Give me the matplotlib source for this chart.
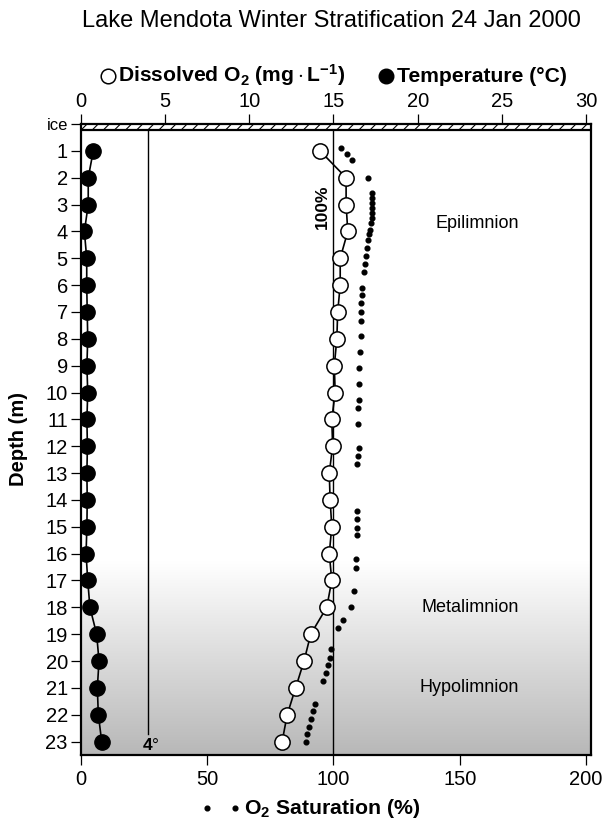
import numpy as np
import matplotlib
matplotlib.use("Agg")
import matplotlib.pyplot as plt
from matplotlib.patches import Rectangle
from matplotlib.lines import Line2D

plt.rcParams['font.family'] = ['Liberation Sans', 'DejaVu Sans']
plt.rcParams['mathtext.fontset'] = 'custom'
plt.rcParams['mathtext.rm'] = 'Liberation Sans'
plt.rcParams['mathtext.bf'] = 'Liberation Sans:bold'
plt.rcParams['mathtext.it'] = 'Liberation Sans:italic'
plt.rcParams['hatch.linewidth'] = 0.8

# Profile depths (m)
depth = np.arange(1, 24)

# Dissolved oxygen (mg/L)
dissolved_o2 = [14.2, 15.75, 15.75, 15.85, 15.4, 15.4, 15.25, 15.2, 15.05, 15.1,
                14.9, 14.95, 14.75, 14.8, 14.9, 14.75, 14.9, 14.6, 13.65, 13.25,
                12.75, 12.25, 11.95]

# Water temperature (deg C)
temperature = [0.73, 0.43, 0.43, 0.2, 0.34, 0.34, 0.37, 0.40, 0.35, 0.40,
               0.35, 0.38, 0.35, 0.37, 0.35, 0.30, 0.40, 0.53, 0.93, 1.07,
               0.97, 1.03, 1.23]

# Sonde oxygen saturation profile
sat_depth = [0.89, 1.11, 1.34, 2.01, 2.56, 2.75, 2.96, 3.14, 3.33, 3.51,
             3.70, 3.93, 4.11, 4.31, 4.61, 4.91, 5.21, 5.51, 6.10, 6.36,
             6.66, 7.00, 7.33, 7.89, 8.49, 9.08, 9.68, 10.27, 10.57, 11.17,
             12.06, 12.36, 12.66, 14.41, 14.70, 15.04, 15.30, 16.20, 16.53, 17.39,
             17.98, 18.47, 18.76, 19.55, 19.88, 20.15, 20.44, 20.74, 21.60, 21.86,
             22.16, 22.45, 22.71, 23.01]
sat_pct = [103.0, 105.3, 107.3, 113.7, 115.2, 115.2, 115.2, 115.2, 115.2, 115.2,
           114.9, 114.5, 114.1, 113.7, 113.3, 112.9, 112.5, 112.1, 111.3, 111.3,
           110.9, 110.9, 110.9, 110.9, 110.5, 110.1, 110.1, 110.1, 109.7, 109.7,
           110.1, 109.7, 109.3, 109.3, 109.3, 109.3, 109.3, 108.9, 108.9, 108.1,
           106.9, 103.8, 101.8, 99.0, 98.6, 97.8, 97.0, 95.8, 92.7, 91.9,
           91.1, 90.3, 89.5, 89.1]

depth_ticks = list(range(1, 24))
depth_tick_labels = ['ice'] + [str(d) for d in depth_ticks]
top_ticks = [0, 5, 10, 15, 20, 25, 30]
sat_ticks = [0, 50, 100, 150, 200]
layers = [('Epilimnion', 3.7), ('Metalimnion', 18.0), ('Hypolimnion', 21.0)]

ice_depth = 0.0
ice_thickness = 0.22
thermal_max_density = 4
full_saturation = 100
x_max = 30.3
sat_per_unit = 200 / 30
y_bottom = 23.5

W, H = 614, 827
fig = plt.figure(figsize=(W / 100, H / 100), dpi=100)
ax = fig.add_axes([81 / W, 1 - 755 / H, 510 / W, 631 / H])

# Grey shading through the metalimnion and hypolimnion
grad_top = 16.3
g = np.linspace(0, 1, 256)
shade = 1.0 - 0.28 * g
img = np.stack([shade, shade, shade], axis=-1)[:, None, :].repeat(2, axis=1)
ax.imshow(img, extent=[0, x_max, y_bottom, grad_top], aspect='auto',
          interpolation='bilinear', origin='upper', zorder=0)

# Ice cover
ax.add_patch(Rectangle((0, ice_depth), x_max, ice_thickness, facecolor='white',
                       edgecolor='black', hatch='///', linewidth=1.6, zorder=4))

# Reference lines: 4 degree isotherm and 100% saturation
ax.plot([thermal_max_density, thermal_max_density], [ice_thickness, 22.7],
        color='black', lw=1.0, zorder=2)
ax.text(thermal_max_density + 0.15, 23.12, r'$\mathbf{4}$°', ha='center',
        va='center', fontsize=12.5, zorder=5)
sat_x = full_saturation / sat_per_unit
ax.plot([sat_x, sat_x], [ice_thickness, y_bottom], color='black', lw=1.0, zorder=2)
ax.text(sat_x - 0.2, 3.1, '100%', rotation=90, ha='right', va='center',
        fontsize=12.5, fontweight='bold', zorder=5)

# Saturation dots
ax.plot(np.array(sat_pct) / sat_per_unit, sat_depth, linestyle='none', marker='o',
        markersize=3.4, color='black', zorder=3)

# Dissolved oxygen and temperature profiles
ax.plot(dissolved_o2, depth, color='black', lw=1.2, marker='o', markersize=11,
        markerfacecolor='white', markeredgecolor='black', markeredgewidth=1.1, zorder=4)
ax.plot(temperature, depth, color='black', lw=1.2, marker='o', markersize=11,
        markerfacecolor='black', markeredgecolor='black', zorder=4)

for name, d in layers:
    ax.text(26.0, d, name, ha='right', va='center', fontsize=13, zorder=5)

ax.set_xlim(0, x_max)
ax.set_ylim(y_bottom, 0)

# Saturation axis along the bottom
ax2 = ax.twiny()
ax2.set_xlim(0, x_max * sat_per_unit)
ax2.xaxis.tick_bottom()
ax2.set_xticks(sat_ticks)
ax2.set_xticklabels([str(t) for t in sat_ticks])
ax2.tick_params(axis='x', direction='out', length=7.5, width=0.9,
                labelsize=14.5, pad=3)
for s in ax2.spines.values():
    s.set_visible(False)

# Concentration / temperature axis along the top, depth on the left
for s in ax.spines.values():
    s.set_linewidth(1.6)
ax.xaxis.tick_top()
ax.set_xticks(top_ticks)
ax.set_xticklabels([str(t) for t in top_ticks])
ax.set_yticks([ice_depth] + depth_ticks)
ax.set_yticklabels(depth_tick_labels)
ax.tick_params(axis='both', direction='out', length=7.5, width=0.9,
               labelsize=14.5, pad=2)
ax.tick_params(axis='x', labeltop=True, labelbottom=False, top=True, bottom=False)
ax.get_yticklabels()[0].set_fontsize(12)
ax.set_ylabel('Depth (m)', fontsize=14.5, fontweight='bold')
ax.yaxis.set_label_coords((28 - 81) / 510, 0.5)

# Title and series keys
fig.text(331 / W, 1 - 27 / H, 'Lake Mendota Winter Stratification 24 Jan 2000',
         ha='center', va='baseline', fontsize=17)
ky = 1 - 82 / H
fig.add_artist(Line2D([108 / W], [1 - 76 / H], marker='o', markersize=10.5,
                      markerfacecolor='white', markeredgecolor='black',
                      markeredgewidth=1.1, linestyle='none'))
fig.text(118 / W, ky, r'$\mathbf{Dissolved\ O_2\ (mg}\cdot\mathbf{L^{-1})}$',
         ha='left', va='baseline', fontsize=15.2)
fig.add_artist(Line2D([386 / W], [1 - 76 / H], marker='o', markersize=10.5,
                      markerfacecolor='black', markeredgecolor='black',
                      linestyle='none'))
fig.text(397 / W, ky, 'Temperature (°C)', ha='left', va='baseline',
         fontsize=15.2, fontweight='bold')

sy = 1 - 808 / H
for x in (207, 235):
    fig.add_artist(Line2D([x / W], [sy], marker='o', markersize=3.4,
                          color='black', linestyle='none'))
fig.text(244 / W, sy, r'$\mathbf{O_2\ Saturation\ (\%)}$', ha='left',
         va='center', fontsize=15.3)

fig.savefig('out.png', dpi=100)
